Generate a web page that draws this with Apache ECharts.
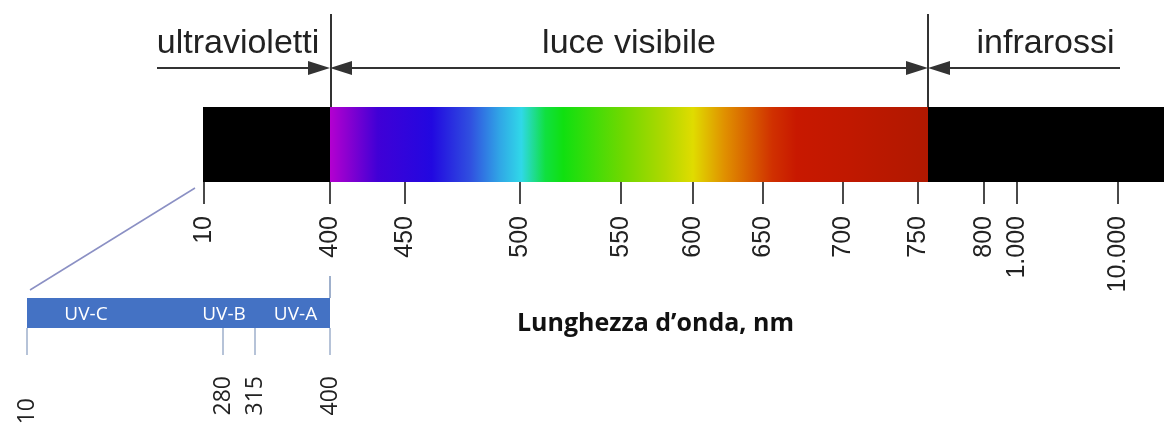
<!DOCTYPE html>
<html>
<head>
<meta charset="utf-8">
<title>Spettro</title>
<script src="https://cdn.jsdelivr.net/npm/echarts@6/dist/echarts.min.js"></script>
<style>
html, body { margin: 0; padding: 0; background: #fff; }
#chart { width: 1167px; height: 429px; }
</style>
</head>
<body>
<div id="chart"></div>
<script>
// scala principale: etichette in nm e posizione di ogni tacca sullo schema
var tickLabels = ['10', '400', '450', '500', '550', '600', '650', '700', '750', '800', '1.000', '10.000'];
var tickPos = [204, 330, 405, 520, 621, 693, 763, 843, 918, 984, 1017, 1118];
// bande: inizio barra, inizio visibile, fine visibile, fine barra
var bandEdges = [203, 330, 928, 1164];
var bandNames = ['ultravioletti', 'luce visibile', 'infrarossi'];
// dettaglio ultravioletti
var uvTickLabels = ['10', '280', '315', '400'];
var uvTickPos = [27, 223, 255, 330];
var uvNames = ['UV-C', 'UV-B', 'UV-A'];

// colori dello spettro (stile)
var spectrumStops = [
    [0.00, '#b400d0'], [0.03, '#8a00d0'], [0.08, '#4000d6'], [0.17, '#2208e0'],
    [0.235, '#3050e0'], [0.285, '#30a8e6'], [0.32, '#30d8e8'], [0.36, '#10e040'],
    [0.39, '#10e010'], [0.49, '#70d800'], [0.56, '#b0d800'], [0.607, '#e0dc00'],
    [0.66, '#e09000'], [0.70, '#d86000'], [0.74, '#d03000'], [0.78, '#c81800'],
    [0.87, '#c01800'], [1.00, '#b01800']
];

var W = 1167, H = 429;
var arrowY = 68, arrowLen = 22, half = arrowLen / 2;
var lineCol = '#333';
var uvLineCol = '#9fb0cc';
var sans = 'Liberation Sans, Arial, sans-serif';
var calib = 'Open Sans, Noto Sans, sans-serif';

var chart = echarts.init(document.getElementById('chart'), null, { renderer: 'canvas' });

function topLabel(text, extra) {
    var l = {
        show: true, formatter: text, position: 'insideMiddleTop', distance: 7,
        fontSize: 34, color: '#222', fontFamily: sans
    };
    return Object.assign(l, extra || {});
}

var marks = [
    // frecce in alto
    [{ coord: [157, arrowY], symbol: 'none', label: topLabel(bandNames[0]) },
     { coord: [bandEdges[1] - half, arrowY], symbol: 'triangle' }],
    [{ coord: [bandEdges[1] + half, arrowY], symbol: 'triangle', label: topLabel(bandNames[1]) },
     { coord: [bandEdges[2] - half, arrowY], symbol: 'triangle' }],
    [{ coord: [bandEdges[2] + half, arrowY], symbol: 'triangle', label: topLabel(bandNames[2], { padding: [0, 0, 0, 32] }) },
     { coord: [1120, arrowY], symbol: 'none' }],
    // separatori verticali
    [{ coord: [bandEdges[1] + 1, 14], symbol: 'none' }, { coord: [bandEdges[1] + 1, 107], symbol: 'none' }],
    [{ coord: [bandEdges[2], 14], symbol: 'none' }, { coord: [bandEdges[2], 107], symbol: 'none' }],
    // raccordo verso il dettaglio UV
    [{ coord: [195, 188], symbol: 'none', lineStyle: { color: '#8b90c4', width: 1.5 } },
     { coord: [30, 290], symbol: 'none' }],
    [{ coord: [uvTickPos[3], 276], symbol: 'none', lineStyle: { color: uvLineCol, width: 2 } },
     { coord: [uvTickPos[3], 298], symbol: 'none' }]
];

var uvOffsets = [[-39, 2], [-15, 2], [3, 2]];

var series = [
    { type: 'bar', xAxisIndex: 0, yAxisIndex: 0, stack: 'spec', silent: true,
      itemStyle: { color: 'transparent' }, data: [bandEdges[0]] },
    { type: 'bar', xAxisIndex: 0, yAxisIndex: 0, stack: 'spec', silent: true, barWidth: '100%',
      itemStyle: { color: '#000' }, data: [bandEdges[1] - bandEdges[0]] },
    { type: 'bar', xAxisIndex: 0, yAxisIndex: 0, stack: 'spec', silent: true, barWidth: '100%',
      itemStyle: { color: new echarts.graphic.LinearGradient(0, 0, 1, 0,
          spectrumStops.map(function (s) { return { offset: s[0], color: s[1] }; })) },
      data: [bandEdges[2] - bandEdges[1]] },
    { type: 'bar', xAxisIndex: 0, yAxisIndex: 0, stack: 'spec', silent: true, barWidth: '100%',
      itemStyle: { color: '#000' }, data: [bandEdges[3] - bandEdges[2]] },
    { type: 'bar', xAxisIndex: 1, yAxisIndex: 1, stack: 'uv', silent: true,
      itemStyle: { color: 'transparent' }, data: [uvTickPos[0]] }
];
uvNames.forEach(function (n, i) {
    series.push({
        type: 'bar', name: n, xAxisIndex: 1, yAxisIndex: 1, stack: 'uv', silent: true, barWidth: '100%',
        itemStyle: { color: '#4472c4' },
        label: { show: true, position: 'inside', formatter: n, offset: uvOffsets[i],
                 color: '#fff', fontSize: 19, fontFamily: calib },
        data: [uvTickPos[i + 1] - uvTickPos[i]]
    });
});
series.push({
    type: 'line', xAxisIndex: 2, yAxisIndex: 2, data: [], silent: true,
    markLine: {
        silent: true, animation: false,
        symbolSize: [14, arrowLen],
        label: { show: false },
        lineStyle: { color: lineCol, width: 2, type: 'solid' },
        emphasis: { disabled: true },
        data: marks
    }
});

var option = {
    animation: false,
    backgroundColor: '#fff',
    title: {
        text: 'Lunghezza d’onda, nm', left: 517, top: 311, padding: 0,
        textStyle: { fontFamily: calib, fontWeight: 'bold', fontSize: 25, color: '#111' }
    },
    grid: [
        { left: 0, right: 0, top: 107, height: 75 },
        { left: 0, right: 0, top: 298, height: 30 },
        { left: 0, right: 0, top: 0, bottom: 0 }
    ],
    xAxis: [
        { gridIndex: 0, type: 'value', min: 0, max: W,
          axisLine: { show: false }, splitLine: { show: false },
          axisTick: { show: true, customValues: tickPos, length: 22, lineStyle: { color: '#4a4a4a', width: 2 } },
          axisLabel: { show: true, customValues: tickPos, rotate: 90, margin: 34, fontSize: 25, color: '#222',
                       fontFamily: sans,
                       formatter: function (v) { return tickLabels[tickPos.indexOf(v)]; } } },
        { gridIndex: 1, type: 'value', min: 0, max: W,
          axisLine: { show: false }, splitLine: { show: false },
          axisTick: { show: true, customValues: uvTickPos, length: 27, lineStyle: { color: uvLineCol, width: 1.5 } },
          axisLabel: { show: true, customValues: uvTickPos, rotate: 90, margin: 48, fontSize: 23, color: '#222',
                       fontFamily: calib,
                       rich: { lo: { padding: [0, 22, 0, 0], fontSize: 23, color: '#222', fontFamily: calib } },
                       formatter: function (v) {
                           var i = uvTickPos.indexOf(v);
                           return i === 0 ? '{lo|' + uvTickLabels[i] + '}' : uvTickLabels[i];
                       } } },
        { gridIndex: 2, type: 'value', min: 0, max: W, show: false }
    ],
    yAxis: [
        { gridIndex: 0, type: 'category', data: [''], show: false },
        { gridIndex: 1, type: 'category', data: [''], show: false },
        { gridIndex: 2, type: 'value', min: 0, max: H, inverse: true, show: false }
    ],
    series: series
};

chart.setOption(option);
</script>
</body>
</html>
